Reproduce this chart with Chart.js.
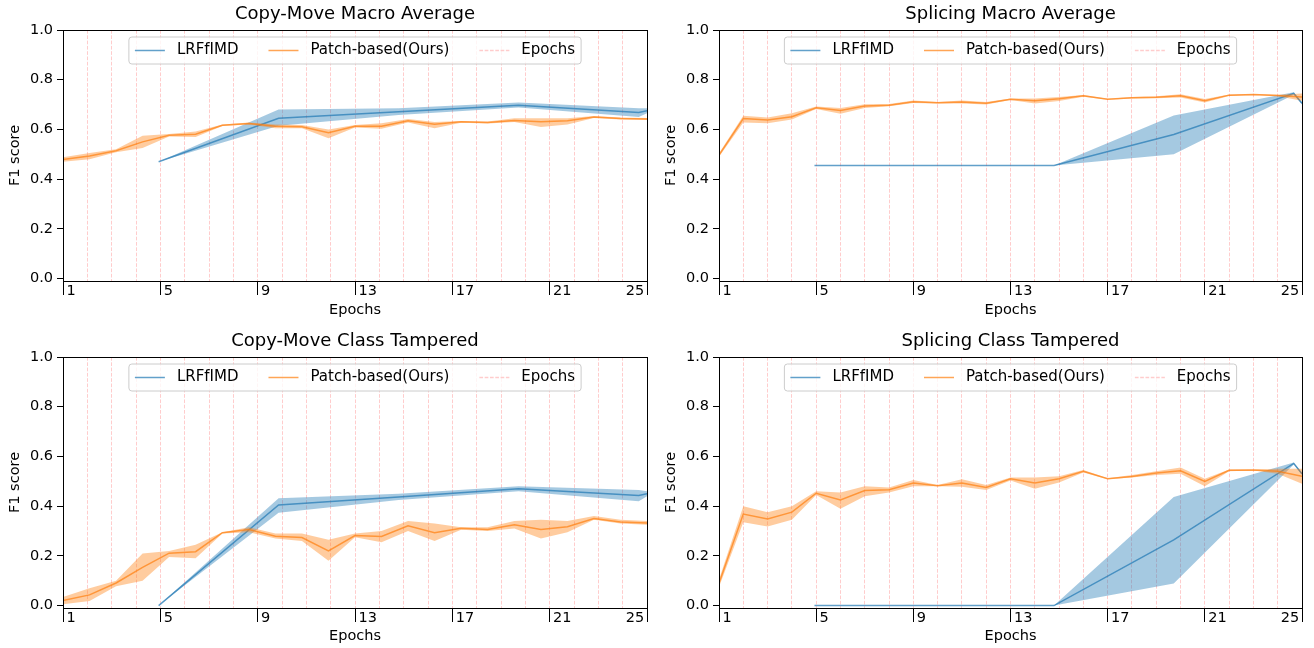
<!DOCTYPE html>
<html lang="en">
<head>
  <meta charset="UTF-8">
  <title>F1 score per epoch</title>
  <script src="https://cdn.jsdelivr.net/npm/chart.js"></script>
  <style>
    body { margin: 0; background: #fff; width: 1314px; height: 648px; position: relative; overflow: hidden; }
    canvas { position: absolute; }
  </style>
</head>
<body>

<canvas id="cmMacro" width="657" height="324" style="left:0;top:0"></canvas>
<canvas id="spMacro" width="657" height="324" style="left:657px;top:0"></canvas>
<canvas id="cmTamp" width="657" height="324" style="left:0;top:324px"></canvas>
<canvas id="spTamp" width="657" height="324" style="left:657px;top:324px"></canvas>

<script>
const FONT = "'DejaVu Sans', sans-serif";

// axes
const epochs = [1,2,3,4,5,6,7,8,9,10,11,12,13,14,15,16,17,18,19,20,21,22,23,24,25];
const xTickLabels = [1,5,9,13,17,21,25];
const yTicks = [0, 0.2, 0.4, 0.6, 0.8, 1.0];

// x positions of the samples
const cmPatchX = [1,2.09,3.18,4.27,5.36,6.45,7.55,8.64,9.73,10.82,11.91,13,14.09,15.18,16.27,17.36,18.45,19.55,20.64,21.73,22.82,23.91,25];
const spPatchX = epochs;
const lrfX = [4.93,9.86,14.79,19.72,24.66,25];

// Copy-Move Macro Average
const cmMacroPatch   = [0.479,0.493,0.514,0.55,0.577,0.581,0.617,0.624,0.613,0.611,0.587,0.613,0.613,0.635,0.621,0.631,0.628,0.636,0.631,0.635,0.65,0.644,0.642];
const cmMacroPatchLo = [0.47,0.48,0.508,0.525,0.572,0.57,0.614,0.62,0.605,0.605,0.565,0.608,0.603,0.628,0.605,0.627,0.624,0.63,0.61,0.62,0.646,0.64,0.638];
const cmMacroPatchHi = [0.488,0.505,0.52,0.575,0.582,0.592,0.62,0.628,0.62,0.618,0.60,0.618,0.625,0.642,0.63,0.634,0.632,0.645,0.645,0.645,0.654,0.648,0.646];
const cmMacroLrf   = [0.47,0.645,0.671,0.697,0.668,0.675];
const cmMacroLrfLo = [0.47,0.615,0.658,0.688,0.65,0.665];
const cmMacroLrfHi = [0.47,0.68,0.685,0.708,0.685,0.685];

// Splicing Macro Average
const spMacroPatch   = [0.497,0.644,0.638,0.651,0.687,0.676,0.694,0.697,0.711,0.707,0.71,0.705,0.721,0.715,0.723,0.735,0.721,0.727,0.729,0.735,0.715,0.738,0.741,0.737,0.73];
const spMacroPatchLo = [0.49,0.628,0.625,0.64,0.682,0.663,0.686,0.693,0.706,0.704,0.704,0.70,0.718,0.704,0.714,0.731,0.719,0.724,0.725,0.728,0.708,0.735,0.738,0.733,0.715];
const spMacroPatchHi = [0.504,0.655,0.648,0.665,0.692,0.686,0.701,0.702,0.716,0.71,0.716,0.71,0.724,0.724,0.73,0.739,0.723,0.73,0.733,0.742,0.722,0.741,0.743,0.74,0.745];
const spMacroLrf   = [0.455,0.455,0.455,0.58,0.745,0.705];
const spMacroLrfLo = [0.455,0.455,0.455,0.50,0.74,0.70];
const spMacroLrfHi = [0.455,0.455,0.455,0.656,0.75,0.71];

// Copy-Move Class Tampered
const cmTampPatch   = [0.02,0.043,0.091,0.154,0.211,0.217,0.293,0.306,0.279,0.274,0.22,0.282,0.278,0.321,0.293,0.311,0.306,0.325,0.306,0.317,0.35,0.336,0.332];
const cmTampPatchLo = [0.005,0.018,0.078,0.10,0.195,0.19,0.29,0.295,0.27,0.26,0.18,0.275,0.255,0.30,0.26,0.305,0.30,0.31,0.27,0.295,0.345,0.33,0.325];
const cmTampPatchHi = [0.035,0.07,0.10,0.21,0.22,0.245,0.295,0.315,0.29,0.29,0.265,0.29,0.30,0.34,0.33,0.315,0.315,0.34,0.345,0.34,0.36,0.345,0.34];
const cmTampLrf   = [0.0,0.405,0.437,0.47,0.443,0.45];
const cmTampLrfLo = [0.0,0.373,0.425,0.46,0.42,0.44];
const cmTampLrfHi = [0.0,0.432,0.45,0.48,0.465,0.46];

// Splicing Class Tampered
const spTampPatch   = [0.09,0.368,0.348,0.376,0.452,0.425,0.463,0.466,0.493,0.482,0.493,0.475,0.51,0.493,0.51,0.54,0.51,0.519,0.533,0.542,0.499,0.544,0.545,0.54,0.52];
const spTampPatchLo = [0.075,0.335,0.318,0.345,0.445,0.39,0.44,0.455,0.48,0.48,0.478,0.465,0.503,0.47,0.495,0.535,0.508,0.515,0.525,0.53,0.48,0.54,0.543,0.53,0.49];
const spTampPatchHi = [0.105,0.40,0.375,0.40,0.46,0.455,0.48,0.475,0.505,0.485,0.508,0.485,0.515,0.515,0.52,0.545,0.512,0.525,0.54,0.555,0.51,0.547,0.547,0.55,0.55];
const spTampLrf   = [0,0,0,0.264,0.572,0.53];
const spTampLrfLo = [0,0,0,0.089,0.568,0.525];
const spTampLrfHi = [0,0,0,0.437,0.576,0.535];

const BLUE = '31,119,180';
const ORANGE = '255,127,14';
const EPOCH_COLOR = 'rgba(255,0,0,0.2)';
const EPOCH_DASH = [3.7, 1.6];

const pts = (xs, ys) => xs.map((x, i) => ({ x: x, y: ys[i] }));

function bandSets(xs, mean, lo, hi, rgb, label) {
  return [
    { label: label, data: pts(xs, mean), borderColor: `rgba(${rgb},0.7)`, borderWidth: 1.5, fill: false },
    { data: pts(xs, hi), borderColor: 'rgba(0,0,0,0)', backgroundColor: `rgba(${rgb},0.4)`, fill: '+1' },
    { data: pts(xs, lo), borderColor: 'rgba(0,0,0,0)', fill: false }
  ];
}

// x tick labels, spines and the legend box
const decorPlugin = {
  id: 'decor',
  afterDraw(chart) {
    const { ctx, chartArea: a, scales: { x } } = chart;
    ctx.save();

    ctx.font = `14.5px ${FONT}`;
    ctx.fillStyle = '#000';
    ctx.textBaseline = 'alphabetic';
    xTickLabels.forEach((v, i) => {
      const px = x.getPixelForValue(v);
      const last = i === xTickLabels.length - 1;
      ctx.textAlign = last ? 'right' : 'left';
      ctx.fillText(String(v), last ? px - 2.7 : px + 3.4, a.bottom + 14.3);
    });

    const l = Math.round(a.left) + 0.5, r = Math.round(a.right) + 0.5;
    const t = Math.round(a.top) + 0.5, b = Math.round(a.bottom) + 0.5;
    ctx.strokeStyle = '#000';
    ctx.lineWidth = 1;
    ctx.strokeRect(l, t, r - l, b - t);

    const items = chart.data.datasets.filter(d => d.label)
      .map(d => ({ text: d.label, color: d.borderColor, dash: [] }))
      .reverse();
    items.push({ text: 'Epochs', color: EPOCH_COLOR, dash: EPOCH_DASH });

    ctx.font = `15px ${FONT}`;
    const widths = items.map(it => ctx.measureText(it.text).width);
    const handle = 30, gap = 12, colSp = 30, pad = 6, h = 27;
    const w = pad * 2 + items.length * (handle + gap) + colSp * (items.length - 1) + widths.reduce((s, v) => s + v, 0);
    const lx = (a.left + a.right) / 2 - w / 2;
    const ty = a.top + 7;
    const rad = 3;
    ctx.beginPath();
    ctx.moveTo(lx + rad, ty);
    ctx.arcTo(lx + w, ty, lx + w, ty + h, rad);
    ctx.arcTo(lx + w, ty + h, lx, ty + h, rad);
    ctx.arcTo(lx, ty + h, lx, ty, rad);
    ctx.arcTo(lx, ty, lx + w, ty, rad);
    ctx.closePath();
    ctx.fillStyle = 'rgba(255,255,255,0.8)';
    ctx.fill();
    ctx.strokeStyle = '#cccccc';
    ctx.stroke();

    let cx = lx + pad;
    const cy = ty + h / 2;
    items.forEach((it, i) => {
      ctx.beginPath();
      ctx.setLineDash(it.dash);
      ctx.strokeStyle = it.color;
      ctx.lineWidth = 1.5;
      ctx.moveTo(cx, cy);
      ctx.lineTo(cx + handle, cy);
      ctx.stroke();
      ctx.setLineDash([]);
      ctx.fillStyle = '#000';
      ctx.textAlign = 'left';
      ctx.textBaseline = 'middle';
      ctx.fillText(it.text, cx + handle + gap, cy);
      cx += handle + gap + widths[i] + colSp;
    });
    ctx.restore();
  }
};

const panels = [
  { id: 'cmMacro', title: 'Copy-Move Macro Average', px: cmPatchX, patch: [cmMacroPatch, cmMacroPatchLo, cmMacroPatchHi], lrf: [cmMacroLrf, cmMacroLrfLo, cmMacroLrfHi],
    left: 63, right: 647, top: 0, bottom: 281, ylabPad: 6.5, xlabPad: 5.3 },
  { id: 'spMacro', title: 'Splicing Macro Average', px: spPatchX, patch: [spMacroPatch, spMacroPatchLo, spMacroPatchHi], lrf: [spMacroLrf, spMacroLrfLo, spMacroLrfHi],
    left: 62, right: 645, top: 0, bottom: 281, ylabPad: 5.2, xlabPad: 5.3 },
  { id: 'cmTamp', title: 'Copy-Move Class Tampered', px: cmPatchX, patch: [cmTampPatch, cmTampPatchLo, cmTampPatchHi], lrf: [cmTampLrf, cmTampLrfLo, cmTampLrfHi],
    left: 63, right: 647, top: 3, bottom: 284, ylabPad: 6.5, xlabPad: 2.6 },
  { id: 'spTamp', title: 'Splicing Class Tampered', px: spPatchX, patch: [spTampPatch, spTampPatchLo, spTampPatchHi], lrf: [spTampLrf, spTampLrfLo, spTampLrfHi],
    left: 62, right: 645, top: 3, bottom: 284, ylabPad: 5.2, xlabPad: 2.6 }
];

Chart.defaults.font.family = FONT;
Chart.defaults.color = '#000';

panels.forEach(p => {
  const W = 657, H = 324;
  new Chart(document.getElementById(p.id), {
    type: 'line',
    data: {
      datasets: [
        ...bandSets(p.px, p.patch[0], p.patch[1], p.patch[2], ORANGE, 'Patch-based(Ours)'),
        ...bandSets(lrfX, p.lrf[0], p.lrf[1], p.lrf[2], BLUE, 'LRFfIMD')
      ]
    },
    options: {
      responsive: false,
      animation: false,
      events: [],
      elements: { point: { radius: 0 }, line: { tension: 0 } },
      layout: { padding: { left: 0, right: W - p.right, top: p.top, bottom: 0 } },
      plugins: {
        legend: { display: false },
        tooltip: { enabled: false },
        title: {
          display: true, text: p.title, fullSize: false, color: '#000',
          font: { family: FONT, size: 18, weight: 'normal', lineHeight: 1.2 },
          padding: { top: 4, bottom: 4.4 }
        }
      },
      scales: {
        x: {
          type: 'linear', min: 1, max: 25,
          afterBuildTicks: s => { s.ticks = epochs.map(v => ({ value: v })); },
          afterFit: s => { s.height = H - p.bottom; },
          ticks: { display: false },
          grid: {
            drawOnChartArea: true, color: EPOCH_COLOR, lineWidth: 1,
            drawTicks: true, tickLength: 14,
            tickColor: c => xTickLabels.includes(c.tick.value) ? '#000' : 'rgba(0,0,0,0)'
          },
          border: { display: false, dash: EPOCH_DASH },
          title: { display: true, text: 'Epochs', color: '#000', font: { family: FONT, size: 14.5 }, padding: { top: 0, bottom: p.xlabPad } }
        },
        y: {
          type: 'linear', min: -0.0097, max: 1.0,
          afterBuildTicks: s => { s.ticks = yTicks.map(v => ({ value: v })); },
          afterFit: s => { s.width = p.left; },
          ticks: { color: '#000', font: { family: FONT, size: 14.5 }, padding: 4, callback: v => v.toFixed(1) },
          grid: { drawOnChartArea: false, drawTicks: true, tickLength: 6, tickColor: '#000', color: '#000' },
          border: { display: false },
          title: { display: true, text: 'F1 score', color: '#000', font: { family: FONT, size: 14.5 }, padding: { top: p.ylabPad, bottom: 0 } }
        }
      }
    },
    plugins: [decorPlugin]
  });
});
</script>
</body>
</html>
